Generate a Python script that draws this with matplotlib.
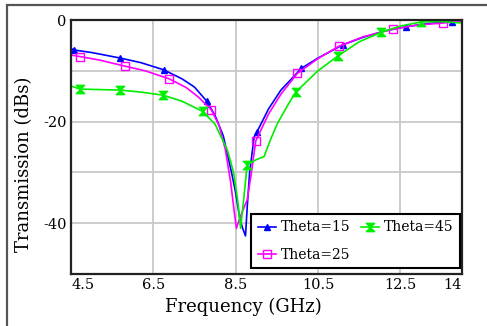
import matplotlib
matplotlib.use("Agg")
import matplotlib.pyplot as plt
from matplotlib.path import Path
from matplotlib.patches import Rectangle

plt.rcParams['font.family'] = ['DejaVu Serif']

# Theta=15
f15 = [4.5, 4.57, 5.0, 5.7, 6.2, 6.75, 7.2, 7.5, 7.8, 8.0, 8.2, 8.4, 8.5, 8.6, 8.67,
       8.74, 8.78, 8.84, 8.95, 9.02, 9.3, 9.6, 10.1, 10.5, 11.1, 11.6, 12.1, 12.65,
       13.2, 13.75, 14.0]
db15 = [-5.6, -5.9, -6.4, -7.5, -8.4, -9.8, -11.6, -13.2, -16.0, -18.8, -22.8, -30.0,
        -34.0, -39.0, -41.0, -42.5, -37.0, -30.0, -23.0, -22.0, -17.5, -13.8, -9.5,
        -7.5, -4.9, -3.4, -2.2, -1.3, -0.7, -0.3, -0.1]
mk15 = [1, 3, 5, 8, 19, 22, 24, 27, 29]

# Theta=25
f25 = [4.5, 4.72, 5.2, 5.82, 6.3, 6.89, 7.3, 7.6, 7.91, 8.1, 8.25, 8.38, 8.47, 8.52,
       8.6, 8.7, 8.78, 8.87, 8.99, 9.3, 9.6, 10.0, 10.5, 11.0, 11.6, 12.33, 12.9,
       13.54, 14.0]
db25 = [-6.9, -7.2, -7.9, -9.1, -10.0, -11.6, -13.3, -15.2, -17.7, -20.8, -25.5, -32.0,
        -38.0, -41.0, -39.0, -37.0, -35.4, -30.8, -23.8, -18.5, -14.6, -10.5, -7.6,
        -5.2, -3.3, -1.8, -1.0, -0.6, -0.2]
mk25 = [1, 3, 5, 8, 18, 21, 23, 25, 27]

# Theta=45
f45 = [4.5, 4.72, 5.2, 5.7, 6.2, 6.74, 7.2, 7.7, 8.0, 8.3, 8.45, 8.55, 8.62, 8.7, 8.78,
       9.0, 9.19, 9.35, 9.52, 9.75, 9.96, 10.5, 10.98, 11.5, 12.04, 12.5, 13.0, 13.5,
       14.0]
db45 = [-13.0, -13.6, -13.7, -13.8, -14.2, -14.8, -16.0, -18.0, -20.5, -25.6, -30.0,
        -35.5, -41.0, -35.0, -28.5, -27.5, -26.9, -23.5, -20.3, -17.0, -14.2, -10.0,
        -7.1, -4.3, -2.4, -1.2, -0.4, -0.3, -0.6]
mk45 = [1, 3, 5, 7, 14, 20, 22, 24, 26]

xticks = [4.5, 6.5, 8.5, 10.5, 12.5, 14]
xlabels = ['4.5', '6.5', '8.5', '10.5', '12.5', '14']
yticks = [0, -10, -20, -30, -40, -50]
ylabels = ['0', '', '-20', '', '-40', '']

# hourglass marker like the original
hourglass = Path([(-1, 1), (1, 1), (0, 0), (1, -1), (-1, -1), (0, 0), (-1, 1)],
                 [Path.MOVETO, Path.LINETO, Path.LINETO, Path.LINETO, Path.LINETO,
                  Path.LINETO, Path.CLOSEPOLY])

fig = plt.figure(figsize=(4.87, 3.26), dpi=100)
fig.patches.append(Rectangle((7 / 487, -0.1), 1.0, 1.1 - 5 / 326, transform=fig.transFigure,
                             fill=False, edgecolor='#555555', linewidth=1.6))
ax = fig.add_axes([71 / 487, 1 - 274 / 326, 391 / 487, 254 / 326])

ax.plot(f15, db15, color='#0000ff', lw=1.2, marker='^', markersize=5,
        markevery=mk15, label='Theta=15')
ax.plot(f25, db25, color='#ff00ff', lw=1.2, marker='s', markersize=5.5,
        markerfacecolor='none', markeredgewidth=1.0, markevery=mk25, label='Theta=25')
ax.plot(f45, db45, color='#00ee00', lw=1.2, marker=hourglass, markersize=6,
        markevery=mk45, label='Theta=45')

ax.set_xlim(4.5, 14)
ax.set_ylim(-50, 0)
ax.set_xticks(xticks)
ax.set_xticklabels(xlabels, fontsize=10.5)
tl = ax.get_xticklabels()
tl[0].set_ha('left')
tl[-1].set_ha('right')
ax.set_yticks(yticks)
ax.set_yticklabels(ylabels, fontsize=10.5)
ax.tick_params(length=0, pad=3)
ax.grid(True, color='#c8c8c8', lw=1.3)
ax.set_axisbelow(True)
for s in ax.spines.values():
    s.set_linewidth(1.6)
    s.set_color('#222222')

ax.set_xlabel('Frequency (GHz)', fontsize=13)
ax.xaxis.set_label_coords(0.44, -0.095)
ax.set_ylabel('Transmission (dBs)', fontsize=13)
ax.yaxis.set_label_coords(-0.097, 0.43)

leg = ax.legend(ncol=2, loc='lower right', bbox_to_anchor=(0.995, 0.024), fontsize=10,
                fancybox=False, framealpha=1, edgecolor='black', handlelength=1.3,
                handletextpad=0.35, columnspacing=0.8, borderpad=0.45, labelspacing=0.95,
                borderaxespad=0)
leg.get_frame().set_linewidth(1.5)

fig.savefig('out.png', dpi=100)
